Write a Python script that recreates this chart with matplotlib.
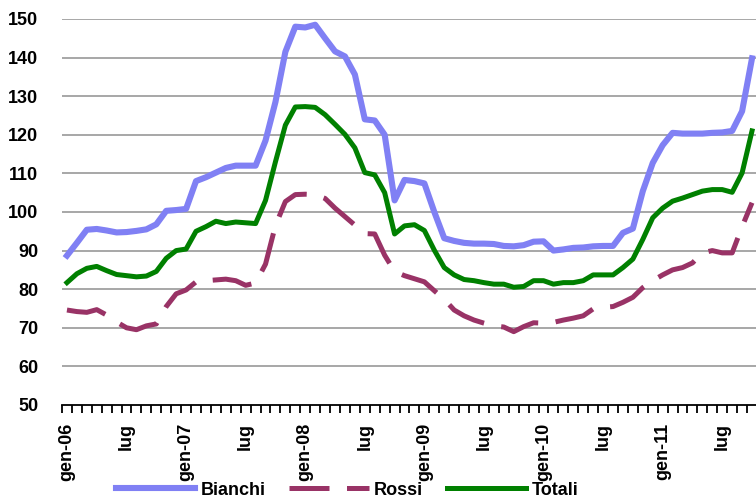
import matplotlib
matplotlib.use("Agg")
import matplotlib.pyplot as plt
import numpy as np

FIGX = 7.56
FIGY = 4.99

## Data ---------------------------------------------

# monthly values, gen-06 .. ott-11
bianchi = [88.7, 92.0, 95.4, 95.6, 95.2, 94.7, 94.8, 95.1, 95.5, 96.8, 100.3, 100.5,
           100.8, 108.0, 109.0, 110.2, 111.4, 112.0, 112.0, 112.0, 118.5, 128.5, 141.5, 148.0,
           147.8, 148.5, 145.0, 141.6, 140.3, 135.6, 124.0, 123.7, 120.0, 103.0, 108.3, 108.0,
           107.4, 100.0, 93.2, 92.5, 92.0, 91.8, 91.8, 91.7, 91.2, 91.1, 91.4, 92.3,
           92.4, 90.0, 90.3, 90.7, 90.8, 91.1, 91.2, 91.2, 94.6, 95.7, 105.4, 112.7,
           117.3, 120.5, 120.3, 120.3, 120.3, 120.5, 120.6, 121.0, 126.1, 139.8]
rossi = [74.6, 74.2, 74.0, 74.7, 73.3, 71.5, 70.0, 69.5, 70.5, 71.0, 75.5, 78.8,
         79.8, 81.9, 82.2, 82.4, 82.6, 82.2, 81.0, 81.6, 86.5, 96.5, 102.7, 104.5,
         104.6, 104.5, 103.5, 101.0, 98.8, 96.6, 94.4, 94.3, 88.8, 84.6, 83.5, 82.7,
         81.9, 79.6, 77.4, 74.6, 73.1, 72.0, 71.2, 70.5, 70.2, 69.0, 70.3, 71.3,
         71.2, 71.4, 72.0, 72.5, 73.1, 74.9, 75.3, 75.5, 76.6, 77.9, 80.4, 82.2,
         83.7, 85.0, 85.6, 86.8, 89.4, 90.0, 89.4, 89.4, 96.2, 102.4]
totali = [81.7, 84.0, 85.4, 85.9, 84.8, 83.8, 83.5, 83.2, 83.4, 84.6, 88.0, 90.0,
          90.4, 95.0, 96.2, 97.6, 97.0, 97.4, 97.2, 97.0, 103.0, 113.0, 122.5, 127.2,
          127.3, 127.1, 125.2, 122.7, 120.1, 116.6, 110.2, 109.6, 105.0, 94.3, 96.4, 96.7,
          95.2, 90.1, 85.6, 83.7, 82.5, 82.2, 81.7, 81.3, 81.3, 80.5, 80.7, 82.2,
          82.2, 81.3, 81.7, 81.7, 82.2, 83.7, 83.7, 83.7, 85.6, 87.8, 92.9, 98.5,
          101.0, 102.8, 103.6, 104.5, 105.4, 105.8, 105.8, 105.1, 110.1, 121.0]

tick_labels = ["gen-06", "lug", "gen-07", "lug", "gen-08", "lug",
               "gen-09", "lug", "gen-10", "lug", "gen-11", "lug"]

## Figure -------------------------------------------

plt.rcParams['font.family'] = ['Liberation Sans', 'DejaVu Sans']
plt.rcParams['font.weight'] = 'bold'

fig = plt.figure(figsize=(FIGX, FIGY), dpi=100)
ax = fig.add_axes([0.082, 0.1884, 0.9193, 0.7736])

x = np.arange(len(bianchi))

ax.plot(x, bianchi, color='#8080F4', lw=4.4, label='Bianchi',
        solid_joinstyle='round', zorder=3)
ax.plot(x, rossi, color='#993366', lw=3.6, label='Rossi',
        dashes=(8, 3.5), dash_capstyle='butt', zorder=3)
ax.plot(x, totali, color='#008000', lw=3.6, label='Totali',
        solid_joinstyle='round', zorder=3)

ax.set_xlim(-0.5, len(bianchi) - 0.5)
ax.set_ylim(50, 150)

# grid
ax.set_yticks(np.arange(50, 151, 10))
for v in range(60, 151, 10):
    ax.axhline(v, color='#A0A0A0', lw=1.3, zorder=1)

for side in ['left', 'right', 'top']:
    ax.spines[side].set_visible(False)
ax.spines['bottom'].set_color('black')
ax.spines['bottom'].set_linewidth(1.3)

ax.tick_params(axis='y', length=0, pad=17, labelsize=13)
ax.set_xticks(np.arange(0, len(bianchi), 6))
ax.set_xticklabels(tick_labels, rotation=90, fontsize=13, fontweight='bold')
ax.set_xticks(np.arange(-0.5, len(bianchi), 1), minor=True)
ax.tick_params(axis='x', which='major', length=0, pad=13)
ax.tick_params(axis='x', which='minor', length=6, width=1.3, color='black')

ax.legend(loc='center', bbox_to_anchor=(347 / 756, 0.018), bbox_transform=fig.transFigure,
          ncol=3, frameon=False, fontsize=13, handlelength=4.4, handletextpad=0.3,
          columnspacing=1.3, borderpad=0, borderaxespad=0)

fig.savefig('out.png', dpi=100)
